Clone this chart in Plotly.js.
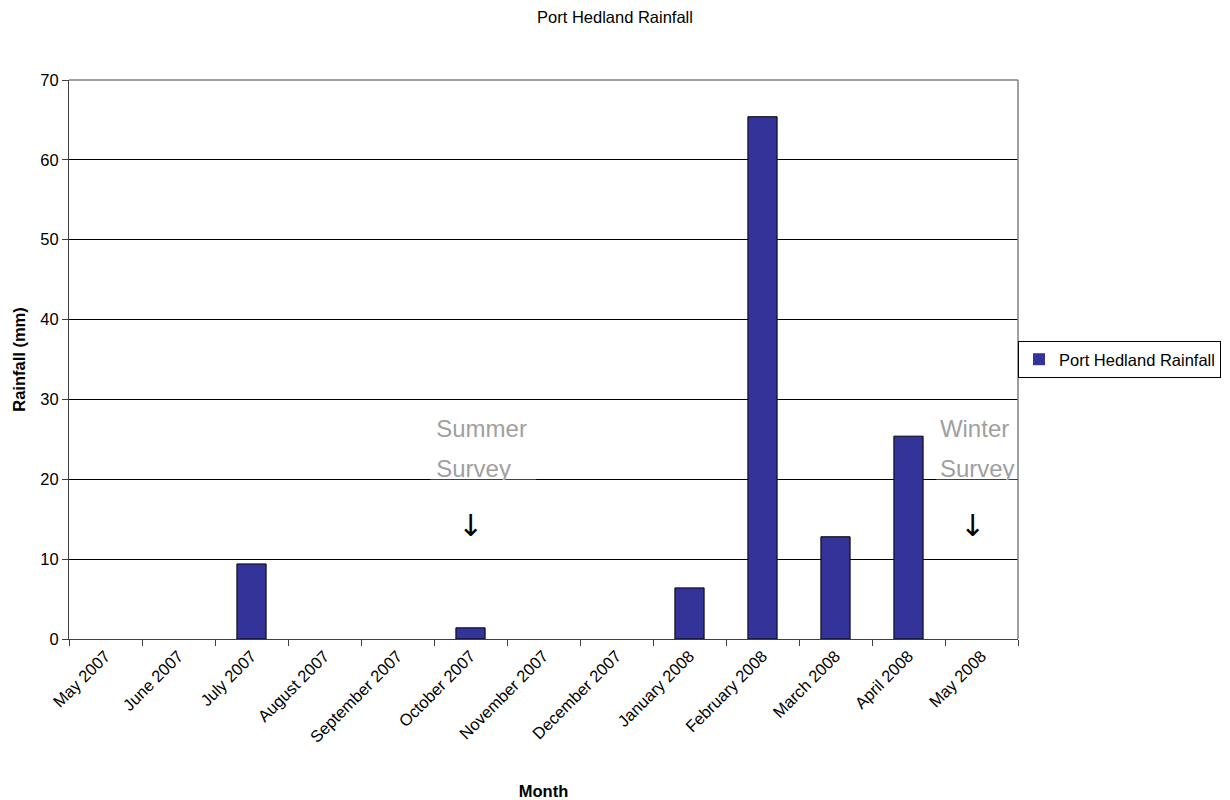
<!DOCTYPE html>
<html>
<head>
<meta charset="utf-8">
<script src="https://cdn.plot.ly/plotly-3.0.1.min.js"></script>
<style>html,body{margin:0;padding:0;background:#fff;}#chart{width:1230px;height:800px;}</style>
</head>
<body>
<div id="chart"></div>
<script>
const months = ["May 2007","June 2007","July 2007","August 2007","September 2007","October 2007","November 2007","December 2007","January 2008","February 2008","March 2008","April 2008","May 2008"];
const rainfall = [0, 0, 9.4, 0, 0, 1.4, 0, 0, 6.4, 65.4, 12.8, 25.4, 0];
const seriesName = "Port Hedland Rainfall";
const yTicks = [0, 10, 20, 30, 40, 50, 60, 70];
const noteLines = ["Summer", "Survey", "Winter", "Survey"];

const FONT = "Arial, 'Liberation Sans', sans-serif";

const barTrace = {
  type: "bar",
  x: months,
  y: rainfall,
  name: seriesName,
  width: 0.4,
  marker: {color: "#333399", line: {color: "#000000", width: rainfall.map(v => v > 0 ? 1 : 0)}},
  xaxis: "x", yaxis: "y"
};

const noteTrace = {
  type: "scatter",
  mode: "text",
  x: [4.53, 4.53, 11.43, 11.43],
  y: [26.1, 21.1, 26.1, 21.1],
  text: noteLines,
  textposition: "middle right",
  textfont: {family: FONT, size: 24, color: "#a0a0a0"},
  showlegend: false,
  hoverinfo: "skip",
  cliponaxis: false,
  xaxis: "x2", yaxis: "y"
};

const layout = {
  width: 1230, height: 800,
  paper_bgcolor: "#ffffff", plot_bgcolor: "#ffffff",
  margin: {l: 69, r: 212, t: 80, b: 161, pad: 0, autoexpand: false},
  font: {family: FONT, size: 16.5, color: "#000"},
  title: {text: "Port Hedland Rainfall", x: 0.5, xref: "container", xanchor: "center", y: 1 - 17/800, yref: "container", yanchor: "middle", font: {family: FONT, size: 16.5, color: "#000"}},
  bargap: 0.6,
  showlegend: true,
  legend: {x: 1221/1230, xref: "container", xanchor: "right", y: 1 - 359.5/800, yref: "container", yanchor: "middle", bordercolor: "#000", borderwidth: 1, bgcolor: "#fff", itemwidth: 30, font: {family: FONT, size: 16.5, color: "#000"}},
  xaxis: {
    type: "category",
    categoryorder: "array", categoryarray: months,
    range: [-0.5, 12.5],
    tickson: "boundaries",
    ticks: "outside", ticklen: 6, tickcolor: "#404040", tickwidth: 1,
    tickangle: -45,
    tickfont: {family: FONT, size: 16.5, color: "#000"},
    showline: true, linecolor: "#404040", linewidth: 1,
    showgrid: false, zeroline: false,
    automargin: false,
    title: {text: "<b>Month</b>", font: {family: FONT, size: 16.5, color: "#000"}, standoff: 40}
  },
  xaxis2: {
    overlaying: "x", range: [-0.5, 12.5], type: "linear",
    visible: false, showgrid: false, zeroline: false, fixedrange: true
  },
  yaxis: {
    range: [0, 70],
    tickvals: yTicks,
    ticks: "outside", ticklen: 6, tickcolor: "#404040", tickwidth: 1,
    tickfont: {family: FONT, size: 16.5, color: "#000"},
    showline: true, linecolor: "#404040", linewidth: 1,
    showgrid: true, gridcolor: "#000000", gridwidth: 1,
    zeroline: false,
    automargin: false,
    title: {text: "<b>Rainfall (mm)</b>", font: {family: FONT, size: 16.5, color: "#000"}, standoff: 10}
  },
  shapes: [
    {type: "rect", xref: "x2", yref: "y", x0: 4.45, x1: 5.9, y0: 18.6, y1: 19.93, fillcolor: "#fff", line: {width: 0}, layer: "above"},
    {type: "rect", xref: "x2", yref: "y", x0: 11.38, x1: 12.48, y0: 18.6, y1: 19.93, fillcolor: "#fff", line: {width: 0}, layer: "above"},
    {type: "line", xref: "paper", yref: "paper", x0: 0, x1: 1, y0: 1, y1: 1, line: {color: "#808080", width: 1.5}, layer: "above"},
    {type: "line", xref: "paper", yref: "paper", x0: 1, x1: 1, y0: 0, y1: 1, line: {color: "#808080", width: 1.5}, layer: "above"}
  ],
  annotations: [
    {xref: "x2", yref: "y", x: 5.0, y: 14.2, text: "↓", showarrow: false, font: {family: "'DejaVu Sans', sans-serif", size: 30, color: "#000"}, xanchor: "center", yanchor: "middle"},
    {xref: "x2", yref: "y", x: 11.87, y: 14.2, text: "↓", showarrow: false, font: {family: "'DejaVu Sans', sans-serif", size: 30, color: "#000"}, xanchor: "center", yanchor: "middle"}
  ]
};

Plotly.newPlot("chart", [barTrace, noteTrace], layout, {staticPlot: true, displayModeBar: false});
</script>
</body>
</html>
